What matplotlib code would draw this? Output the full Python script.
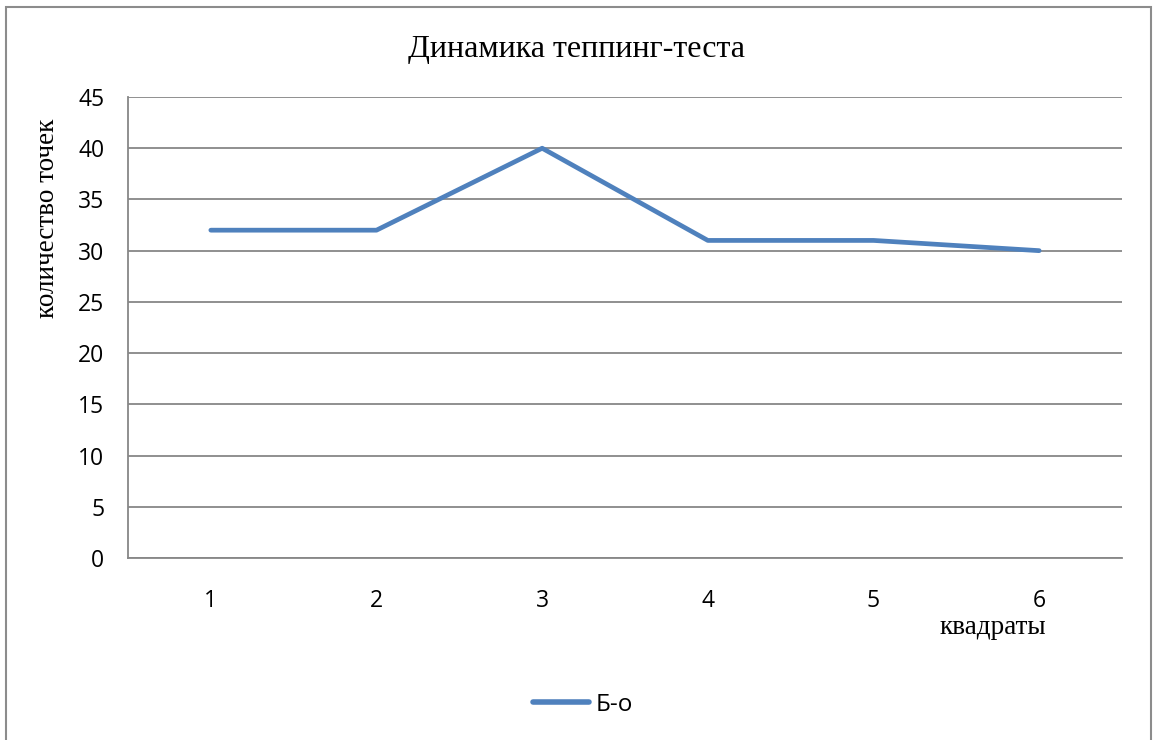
import matplotlib
matplotlib.use('Agg')
import matplotlib.pyplot as plt
from matplotlib.lines import Line2D
from matplotlib.patches import Rectangle

# data
squares = ['1', '2', '3', '4', '5', '6']
points = [32, 32, 40, 31, 31, 30]
y_ticks = [0, 5, 10, 15, 20, 25, 30, 35, 40, 45]

line_color = '#4F81BD'
grid_color = '#878787'
serif = ['Liberation Serif', 'DejaVu Serif']
sans = ['Open Sans', 'DejaVu Sans']

fig = plt.figure(figsize=(11.54, 7.40), dpi=100)
fig.patch.set_facecolor('white')

# outer chart border
fig.patches.append(Rectangle((6 / 1154, -0.01), 1145 / 1154, 1 - 7 / 740 + 0.01,
                             transform=fig.transFigure, fill=False,
                             edgecolor='#8c8c8c', linewidth=1.5))

ax = fig.add_axes([128 / 1154, 1 - 558 / 740, 994 / 1154, 461 / 740])
x = list(range(1, len(squares) + 1))
ax.plot(x, points, color=line_color, linewidth=3.4,
        solid_capstyle='round', solid_joinstyle='round', zorder=3)

ax.set_xlim(0.5, len(squares) + 0.5)
ax.set_ylim(0, 45)
ax.set_yticks(y_ticks)
ax.set_xticks(x)
ax.set_xticklabels(squares)
ax.yaxis.grid(True, color=grid_color, linewidth=1.3)
ax.set_axisbelow(True)

for side in ['top', 'right']:
    ax.spines[side].set_visible(False)
for side in ['left', 'bottom']:
    ax.spines[side].set_color(grid_color)
    ax.spines[side].set_linewidth(1.3)

ax.tick_params(axis='both', length=0, labelsize=16.5)
ax.tick_params(axis='y', pad=17)
ax.tick_params(axis='x', pad=22)
for lbl in ax.get_xticklabels() + ax.get_yticklabels():
    lbl.set_family(sans)

fig.text(0.5, 1 - 49 / 740, 'Динамика теппинг-теста', ha='center', va='center',
         fontsize=23, family=serif)
fig.text(47 / 1154, 1 - 218 / 740, 'количество точек', ha='center', va='center',
         rotation=90, fontsize=19.5, family=serif)
fig.text(1046 / 1154, 1 - 628 / 740, 'квадраты', ha='right', va='center',
         fontsize=19.5, family=serif)

handle = Line2D([0], [0], color=line_color, linewidth=4, solid_capstyle='round')
fig.legend([handle], ['Б-о'], loc='center', bbox_to_anchor=(583 / 1154, 1 - 705 / 740),
           frameon=False, prop={'family': sans, 'size': 17.5},
           handlelength=2.3, handletextpad=0.25)

fig.savefig('out.png', dpi=100, facecolor='white')
